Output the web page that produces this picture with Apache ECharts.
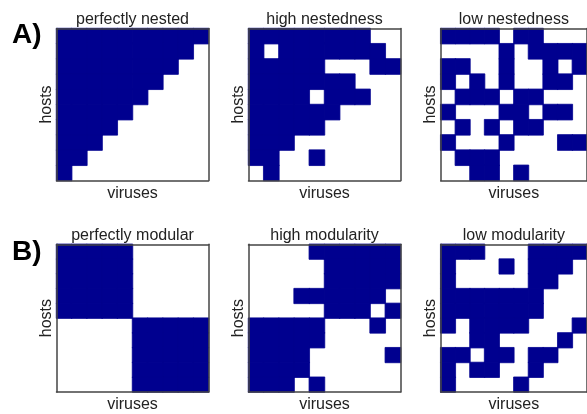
<!DOCTYPE html>
<html><head><meta charset="utf-8">
<script src="https://cdn.jsdelivr.net/npm/echarts@6/dist/echarts.min.js"></script>
<style>html,body{margin:0;padding:0;background:#fff}#c{width:587px;height:414px}</style>
</head><body><div id="c"></div>
<script>
const cols = ['0','1','2','3','4','5','6','7','8','9'];
const rows = ['0','1','2','3','4','5','6','7','8','9'];
const titles = ['perfectly nested','high nestedness','low nestedness','perfectly modular','high modularity','low modularity'];
const panelLabels = ['A)','B)'];
const xName = 'viruses';
const yName = 'hosts';

const perfectlyNested = [
 [1,1,1,1,1,1,1,1,1,1],
 [1,1,1,1,1,1,1,1,1,0],
 [1,1,1,1,1,1,1,1,0,0],
 [1,1,1,1,1,1,1,0,0,0],
 [1,1,1,1,1,1,0,0,0,0],
 [1,1,1,1,1,0,0,0,0,0],
 [1,1,1,1,0,0,0,0,0,0],
 [1,1,1,0,0,0,0,0,0,0],
 [1,1,0,0,0,0,0,0,0,0],
 [1,0,0,0,0,0,0,0,0,0]
];
const highNested = [
 [1,1,1,1,1,1,1,1,0,0],
 [1,0,1,1,1,1,1,1,1,0],
 [1,1,1,1,1,0,0,0,1,1],
 [1,1,1,1,1,1,1,0,0,0],
 [1,1,1,1,0,1,1,1,0,0],
 [1,1,1,1,1,1,0,0,0,0],
 [1,1,1,1,1,0,0,0,0,0],
 [1,1,1,0,0,0,0,0,0,0],
 [1,1,0,0,1,0,0,0,0,0],
 [0,1,0,0,0,0,0,0,0,0]
];
const lowNested = [
 [1,1,1,1,0,1,1,0,0,0],
 [0,0,0,0,1,0,1,1,1,1],
 [1,1,0,0,1,0,0,1,0,1],
 [1,0,1,0,1,0,0,1,1,0],
 [0,1,1,1,0,1,1,0,0,0],
 [1,0,0,0,1,1,0,1,1,0],
 [0,1,0,1,0,1,1,0,0,0],
 [1,0,0,0,1,0,0,0,1,1],
 [0,1,1,1,0,0,0,0,0,0],
 [0,0,1,1,0,1,0,0,0,0]
];
const perfectlyModular = [
 [1,1,1,1,1,0,0,0,0,0],
 [1,1,1,1,1,0,0,0,0,0],
 [1,1,1,1,1,0,0,0,0,0],
 [1,1,1,1,1,0,0,0,0,0],
 [1,1,1,1,1,0,0,0,0,0],
 [0,0,0,0,0,1,1,1,1,1],
 [0,0,0,0,0,1,1,1,1,1],
 [0,0,0,0,0,1,1,1,1,1],
 [0,0,0,0,0,1,1,1,1,1],
 [0,0,0,0,0,1,1,1,1,1]
];
const highModular = [
 [0,0,0,0,1,1,1,1,1,1],
 [0,0,0,0,0,1,1,1,1,1],
 [0,0,0,0,0,1,1,1,1,1],
 [0,0,0,1,1,1,1,1,1,0],
 [0,0,0,0,0,1,1,1,0,1],
 [1,1,1,1,1,0,0,0,1,0],
 [1,1,1,1,1,0,0,0,0,0],
 [1,1,1,1,0,0,0,0,0,1],
 [1,1,1,1,0,0,0,0,0,0],
 [1,1,1,0,1,0,0,0,0,0]
];
const lowModular = [
 [1,1,1,0,0,0,1,1,1,1],
 [1,0,0,0,1,0,1,1,1,0],
 [1,0,0,0,0,0,1,1,0,0],
 [1,1,1,1,1,1,1,0,0,0],
 [1,1,1,1,1,1,1,0,0,0],
 [1,0,1,1,1,1,0,0,0,1],
 [0,0,1,1,0,0,0,0,1,0],
 [1,1,0,1,1,0,1,1,0,0],
 [1,0,1,1,0,0,1,0,0,0],
 [1,0,0,0,0,1,0,0,0,0]
];
const matrices = [perfectlyNested, highNested, lowNested, perfectlyModular, highModular, lowModular];

const panelLeft = [56.5, 248.5, 440.7];
const panelTop = [28.5, 244.3];
const panelW = 152, panelH = [152, 150];
const fill = '#00008f';
const border = '#444';
const font = '"Liberation Sans", Arial, Helvetica, sans-serif';
const nameStyle = {fontFamily: font, fontSize: 16, color: '#222'};

const grid = [], xAxis = [], yAxis = [], series = [];
matrices.forEach((m, i) => {
  const r = Math.floor(i / 3), c = i % 3;
  grid.push({left: panelLeft[c], top: panelTop[r], width: panelW, height: panelH[r], containLabel: false});
  const common = {type: 'category', data: cols, gridIndex: i, axisTick: {show: false}, axisLabel: {show: false}, splitLine: {show: false}, z: 10, axisLine: {show: true, onZero: false, lineStyle: {color: border, width: 1.5}}};
  xAxis.push(Object.assign({}, common, {position: 'bottom', name: xName, nameLocation: 'middle', nameGap: 5, nameTextStyle: nameStyle}));
  xAxis.push(Object.assign({}, common, {position: 'top', name: titles[i], nameLocation: 'middle', nameGap: 1, nameTextStyle: nameStyle}));
  const ycommon = Object.assign({}, common, {data: rows, inverse: true});
  yAxis.push(Object.assign({}, ycommon, {position: 'left', name: yName, nameLocation: 'middle', nameGap: 2, nameTextStyle: nameStyle}));
  yAxis.push(Object.assign({}, ycommon, {position: 'right'}));
  const data = [];
  m.forEach((row, ri) => row.forEach((v, ci) => { if (v) data.push([ci, ri, 1]); }));
  series.push({type: 'heatmap', xAxisIndex: 2 * i, yAxisIndex: 2 * i, data: data, itemStyle: {color: fill, borderColor: fill, borderWidth: 0.8}, emphasis: {disabled: true}, silent: true});
});

const chart = echarts.init(document.getElementById('c'), null, {renderer: 'canvas'});
chart.setOption({
  animation: false,
  backgroundColor: '#fff',
  title: [
    {text: panelLabels[0], left: 7, top: 16, textStyle: {fontFamily: font, fontSize: 28, fontWeight: 'bold', color: '#000'}},
    {text: panelLabels[1], left: 7, top: 233, textStyle: {fontFamily: font, fontSize: 28, fontWeight: 'bold', color: '#000'}}
  ],
  grid, xAxis, yAxis, series
});
</script></body></html>
